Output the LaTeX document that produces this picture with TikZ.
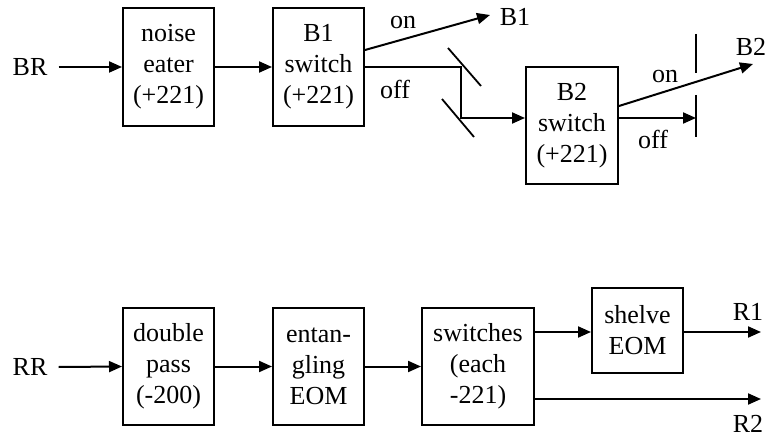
\documentclass[tikz,border=0pt]{standalone}
\usepackage{fontspec}
\setmainfont{Liberation Serif}
\usetikzlibrary{arrows.meta,calc}
\begin{document}
\begin{tikzpicture}[x=1pt,y=-1pt,
 box/.style={draw,line width=2pt,minimum width=91pt,minimum height=118pt,inner sep=0pt,align=center,font=\fontsize{26}{31}\selectfont},
 lbl/.style={inner sep=0pt,font=\fontsize{26}{31}\selectfont},
 conn/.style={line width=2pt,-{Triangle[length=13pt,width=11pt]}},
 mirror/.style={line width=1.8pt},
]
\useasboundingbox (0,0) rectangle (767,438);
% top row
\node[lbl] (BR) at (30,67) {BR};
\node[box] (ne) at (168.5,67) {noise\\eater\\(+221)};
\node[box] (b1) at (318.5,67) {B1\\switch\\(+221)};
\node[box,minimum width=92pt,minimum height=117pt] (b2) at (572,125.5) {B2\\switch\\(+221)};
\coordinate (b1tip) at (490,15);
\coordinate (k1) at (461,67);
\coordinate (k2) at (461,118);
\coordinate (b2tip) at (753,64);
\coordinate (blk) at (696,118);
\draw[conn] ([xshift=11pt]BR.east) -- (ne.west);
\draw[conn] (ne.east) -- (b1.west);
\draw[conn] ($(b1.east)+(0,-17)$) -- (b1tip);
\draw[conn] (b1.east) -- (k1) -- (k2) -- ($(b2.west)+(0,-7.5)$);
\draw[mirror] (448,48) -- (481,86);
\draw[mirror] (442,99) -- (474,137);
\draw[conn] ($(b2.east)+(0,-19.5)$) -- (b2tip);
\draw[conn] ($(b2.east)+(0,-7.5)$) -- (blk);
\draw[mirror] (696,34) -- (696,73);
\draw[mirror] (696,95) -- (696,137);
\node[lbl] (on1) at (403,23) {on};
\node[lbl] (off1) at (395,89) {off};
\node[lbl] (B1) at (515,17) {B1};
\node[lbl] (B2) at (751,47) {B2};
\node[lbl] (on2) at (665,77) {on};
\node[lbl] (off2) at (653,139) {off};
% bottom row
\node[lbl] (RR) at (30,367) {RR};
\node[box,minimum height=117pt] (dp) at (168.5,366.5) {double\\pass\\(-200)};
\node[box,minimum height=117pt] (ent) at (318.5,366.5) {entan-\\gling\\EOM};
\node[box,minimum width=112pt,minimum height=117pt] (sw) at (478,366.5) {switches\\(each\\-221)};
\node[box,minimum height=85pt] (sh) at (637.5,330.5) {shelve\\EOM};
\coordinate (r1end) at (761,332);
\coordinate (r2end) at (761,399);
\draw[conn] ([xshift=11pt]RR.east) -- (dp.west);
\draw[conn] (dp.east) -- (ent.west);
\draw[conn] (ent.east) -- (sw.west);
\draw[conn] (sw.east |- r1end) -- (sh.west |- r1end);
\draw[conn] (sh.east |- r1end) -- (r1end);
\draw[conn] ($(sw.east)+(0,32.5)$) -- (r2end);
\node[lbl] (R1) at (748,312) {R1};
\node[lbl] (R2) at (748,424) {R2};
\end{tikzpicture}
\end{document}
